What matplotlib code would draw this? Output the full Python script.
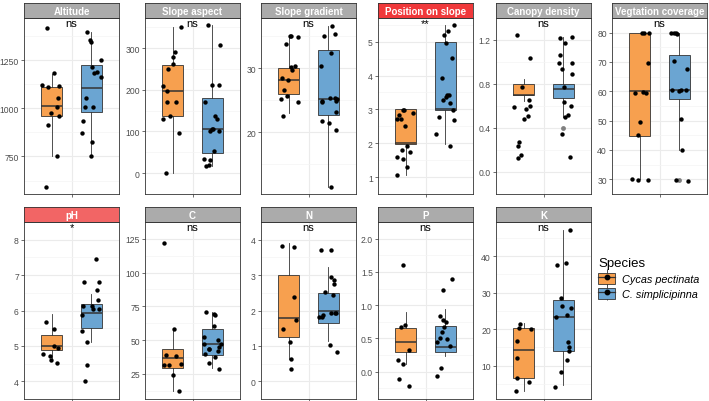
import numpy as np
import matplotlib
matplotlib.use('Agg')
import matplotlib.pyplot as plt
import matplotlib.transforms as mtransforms
from matplotlib.patches import Patch
from matplotlib.lines import Line2D

plt.rcParams['font.family'] = ['Liberation Sans', 'DejaVu Sans']

species = ['Cycas pectinata', 'C. simplicipinna']
colors = ['#F7A04F', '#6BA5D2']

titles = ['Altitude', 'Slope aspect', 'Slope gradient', 'Position on slope',
          'Canopy density', 'Vegtation coverage', 'pH', 'C', 'N', 'P', 'K']
signif = ['ns', 'ns', 'ns', '**', 'ns', 'ns', '*', 'ns', 'ns', 'ns', 'ns']
strip_colors = ['#ABABAB', '#ABABAB', '#ABABAB', '#F0383A', '#ABABAB', '#ABABAB',
                '#F26565', '#ABABAB', '#ABABAB', '#ABABAB', '#ABABAB']

# jittered points, per facet: (Cycas pectinata, C. simplicipinna)
points = [
    ([1182, 961, 750, 592, 1110, 1115, 1120, 1054, 1005, 975, 915, 1417],
     [1396, 1357, 1345, 1216, 1252, 1187, 1182, 1162, 1056, 1005, 1008, 932, 872, 825, 750]),
    ([350, 291, 279, 261, 250, 209, 197, 171, 171, 136, 129, 96, 1],
     [355, 308, 211, 211, 136, 131, 171, 106, 106, 101, 100, 54, 34, 31, 20, 16]),
    ([30.4, 33.8, 34.9, 35.0, 35.0, 30.2, 29.7, 28.5, 28.1, 26.6, 25.7, 25.2, 24.8, 22.6],
     [36.6, 35.0, 35.3, 32.4, 30.4, 25.3, 25.2, 24.9, 25.3, 24.9, 24.8, 23.1, 21.5, 21.8, 20.4, 11.5]),
    ([1.30, 2.98, 2.98, 2.73, 2.73, 2.90, 2.51, 1.93, 1.79, 1.75, 1.58, 1.54, 1.07, 2.82],
     [5.49, 5.32, 5.19, 4.97, 4.53, 3.94, 3.43, 3.43, 3.29, 3.36, 3.20, 2.99, 2.78, 2.70, 2.26, 1.93]),
    ([1.04, 1.25, 0.77, 0.60, 0.587, 0.573, 0.653, 0.485, 0.507, 0.272, 0.232, 0.155, 0.125],
     [1.22, 1.23, 1.17, 1.06, 0.987, 0.987, 0.933, 0.893, 0.773, 0.635, 0.60, 0.52, 0.50, 0.347, 0.14]),
    ([29.7, 29.9, 30.2, 45.1, 49.6, 69.5, 59.3, 59.6, 59.8, 80, 80, 80],
     [80, 79.5, 80, 80, 70.3, 67.7, 60.5, 60.4, 60.4, 60, 50.4, 39.9, 29.9, 29.4]),
    ([4.61, 4.99, 5.47, 5.68, 4.76, 4.71, 4.51, 4.95],
     [7.46, 6.81, 6.80, 6.59, 6.30, 6.13, 6.03, 6.12, 5.88, 5.43, 5.12, 4.45, 4.0, 6.03]),
    ([122, 58.3, 38.7, 38.2, 31.4, 31.4, 32.5, 23.9, 12.0],
     [68.6, 69.1, 70.7, 60.6, 51.9, 49.7, 47.4, 45.1, 47.4, 43.3, 43.5, 39.4, 37.1, 41.7, 33.0, 28.4]),
    ([3.78, 3.81, 2.39, 1.73, 1.48, 1.12, 0.63, 0.35],
     [3.72, 3.70, 2.96, 2.75, 2.86, 2.53, 2.43, 1.94, 1.94, 1.83, 1.83, 1.92, 1.86, 1.03, 0.84]),
    ([1.61, 0.67, 0.70, 0.32, 0.17, 0.12, -0.11, -0.21],
     [1.39, 1.23, 0.78, 0.75, 0.84, 0.50, 0.59, 0.67, 0.45, 0.38, 0.49, 0.06, -0.07]),
    ([5.45, 16.8, 12.0, 6.6, 3.2, 20.0, 20.3, 21.5],
     [47.1, 38.2, 37.5, 26.2, 25.7, 28.5, 23.9, 23.4, 16.5, 15.2, 14.1, 11.6, 8.4, 4.3]),
]

# box stats per facet: (whislo, q1, med, q3, whishi) for each species
box_stats = [
    ((750, 961, 1015, 1110, 1180), (750, 983, 1107, 1224, 1396)),
    ((1, 136, 198, 260, 350), (16, 49, 106, 180, 355)),
    ((23.0, 26.0, 28.1, 30.0, 35.0), (11.5, 22.7, 25.2, 32.8, 36.6)),
    ((1.07, 1.98, 2.0, 3.0, 3.0), (1.98, 2.98, 3.0, 5.0, 5.49)),
    ((0.65, 0.70, 0.70, 0.80, 0.845), (0.50, 0.672, 0.752, 0.80, 1.23)),
    ((30, 44.9, 60, 80, 80), (39.9, 57.4, 60.4, 72.4, 80)),
    ((4.64, 4.89, 5.0, 5.30, 5.91), (5.12, 5.51, 5.93, 6.17, 6.48)),
    ((12, 29.6, 36.4, 43.5, 58.1), (29.1, 38.9, 46.9, 58.1, 70.7)),
    ((0.63, 1.24, 1.80, 3.0, 3.9), (1.14, 1.65, 1.99, 2.49, 3.23)),
    ((0.12, 0.29, 0.45, 0.66, 0.90), (0.23, 0.30, 0.37, 0.69, 0.95)),
    ((3.2, 6.6, 14.4, 20.2, 21.6), (4.7, 13.9, 23.4, 28.0, 47.1)),
]

# boxplot outliers left visible (grey, at the box centre)
outliers = [
    ([], []), ([], []), ([], []), ([], []),
    ([], [0.40]),
    ([], [29.9]),
    ([], []), ([], []), ([], []), ([], []), ([], []),
]

ylims = [(555, 1470), (-13, 372), (10.4, 37.8), (0.77, 5.7), (-0.07, 1.32), (27.3, 82.7),
         (3.73, 8.14), (6.3, 127.7), (-0.04, 4.46), (-0.41, 2.18), (0.9, 49.3)]
yticks = [[750, 1000, 1250], [0, 100, 200, 300], [20, 30], [1, 2, 3, 4, 5],
          [0.0, 0.4, 0.8, 1.2], [30, 40, 50, 60, 70, 80], [4, 5, 6, 7, 8],
          [25, 50, 75, 100, 125], [0, 1, 2, 3, 4], [0.0, 0.5, 1.0, 1.5, 2.0], [10, 20, 30, 40]]
ytick_fmt = ['{:.0f}', '{:.0f}', '{:.0f}', '{:.0f}', '{:.1f}', '{:.0f}', '{:.0f}',
             '{:.0f}', '{:.0f}', '{:.1f}', '{:.0f}']

W, H = 709, 402
fig = plt.figure(figsize=(W / 100, H / 100), dpi=100)

lefts = [24, 145, 261, 378, 496, 612]
pw = 95
rows = [(19, 195), (223, 400)]
strip_h = 15

rng = np.random.default_rng(7)
positions = [0.75, 1.25]

for i, title in enumerate(titles):
    r, c = divmod(i, 6)
    top, bot = rows[r]
    x0 = lefts[c]
    ax = fig.add_axes([x0 / W, 1 - bot / H, pw / W, (bot - top) / H])
    ax.set_facecolor('white')
    ax.set_xlim(0.4, 1.6)
    ax.set_ylim(*ylims[i])
    yt = yticks[i]
    ax.set_yticks(yt)
    ax.set_yticklabels([ytick_fmt[i].format(v) for v in yt])
    step = yt[1] - yt[0]
    minors = [v - step / 2 for v in yt] + [yt[-1] + step / 2]
    ax.set_yticks(minors, minor=True)
    ax.set_xticks([1.0])
    ax.set_xticklabels([''])
    ax.grid(True, which='major', color='#EBEBEB', lw=0.8)
    ax.grid(True, which='minor', axis='y', color='#F4F4F4', lw=0.5)
    ax.set_axisbelow(True)
    ax.tick_params(axis='y', which='major', labelsize=6.2, labelcolor='#4D4D4D',
                   color='#333333', length=2.5, width=0.5, pad=1.2)
    ax.tick_params(axis='x', color='#333333', length=2.5, width=0.5)
    ax.tick_params(which='minor', length=0)
    for sp in ax.spines.values():
        sp.set_color('#333333')
        sp.set_linewidth(0.6)

    stats = []
    for k in range(2):
        lo, q1, med, q3, hi = box_stats[i][k]
        stats.append(dict(whislo=lo, q1=q1, med=med, q3=q3, whishi=hi, fliers=outliers[i][k]))
    bp = ax.bxp(stats, positions=positions, widths=0.26, patch_artist=True,
                showcaps=False, manage_ticks=False,
                boxprops=dict(edgecolor='#333333', linewidth=0.6),
                whiskerprops=dict(color='#333333', linewidth=0.6),
                medianprops=dict(color='#333333', linewidth=1.1),
                flierprops=dict(marker='o', markerfacecolor='#808080', markeredgecolor='none',
                                markersize=3.5))
    for patch, col in zip(bp['boxes'], colors):
        patch.set_facecolor(col)

    for k in range(2):
        vals = points[i][k]
        xs = positions[k] + rng.uniform(-0.12, 0.12, len(vals))
        ax.scatter(xs, vals, s=10, color='black', zorder=4, linewidths=0)

    trans = mtransforms.blended_transform_factory(ax.transData, ax.transAxes)
    ax.text(1.0, 0.972, signif[i], transform=trans, ha='center', va='center',
            fontsize=8, color='black', zorder=5)

    sax = fig.add_axes([x0 / W, 1 - top / H, pw / W, strip_h / H])
    sax.set_xticks([])
    sax.set_yticks([])
    sax.set_facecolor(strip_colors[i])
    for sp in sax.spines.values():
        sp.set_color('#333333')
        sp.set_linewidth(0.6)
    sax.text(0.5, 0.47, title, transform=sax.transAxes, ha='center', va='center',
             fontsize=7, color='white', fontweight='bold')

handles = []
for col in colors:
    whisk = Line2D([], [], marker='|', markersize=12, markeredgewidth=0.6,
                   color='#333333', linestyle='none')
    box = Patch(facecolor=col, edgecolor='#333333', linewidth=0.6)
    mid = Line2D([], [], color='#333333', linewidth=0.9, marker='o',
                 markersize=3.2, markerfacecolor='black', markeredgecolor='black')
    handles.append((whisk, box, mid))

leg = fig.legend(handles, species, loc='upper left', bbox_to_anchor=(598 / W, 1 - 258 / H),
                 frameon=False, title='Species', title_fontsize=9.5,
                 prop={'size': 7.8, 'style': 'italic'}, handlelength=1.6,
                 handleheight=1.2, handletextpad=0.6, labelspacing=0.35,
                 borderaxespad=0, borderpad=0)
leg._legend_box.align = 'left'

fig.savefig('out.png', dpi=100)
